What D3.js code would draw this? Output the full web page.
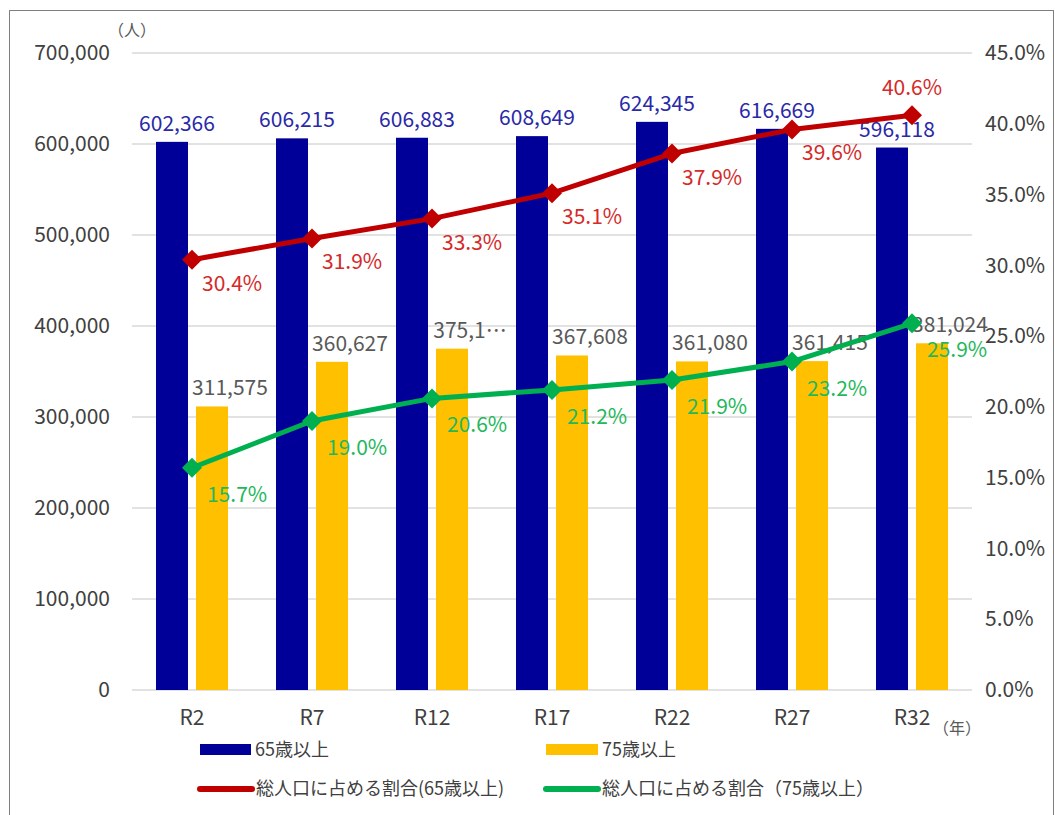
<!DOCTYPE html>
<html>
<head>
<meta charset="utf-8">
<script src="https://cdn.jsdelivr.net/npm/d3@7"></script>
<style>
  body { margin: 0; background: #fff; }
  text { font-family: "Noto Sans CJK JP", "Noto Sans", sans-serif; }
</style>
</head>
<body>
<script>
// data
var categories = ["R2", "R7", "R12", "R17", "R22", "R27", "R32"];
var over65 = [602366, 606215, 606883, 608649, 624345, 616669, 596118];
var over75 = [311575, 360627, 375100, 367608, 361080, 361415, 381024];
var over75Labels = ["311,575", "360,627", "375,1…", "367,608", "361,080", "361,415", "381,024"];
var share65 = [30.4, 31.9, 33.3, 35.1, 37.9, 39.6, 40.6];
var share75 = [15.7, 19.0, 20.6, 21.2, 21.9, 23.2, 25.9];
var leftTicks = [0, 100000, 200000, 300000, 400000, 500000, 600000, 700000];
var rightTicks = [0, 5, 10, 15, 20, 25, 30, 35, 40, 45];

var W = 1055, H = 815;
var plotL = 132, plotR = 972, plotT = 53, plotB = 690;
var fs = 21;

var svg = d3.select("body").append("svg")
    .attr("width", W)
    .attr("height", H);

svg.append("rect")
    .attr("x", 9.5).attr("y", 10.5)
    .attr("width", W - 11).attr("height", H)
    .attr("fill", "none")
    .attr("stroke", "#7f7f7f");

var x = d3.scaleBand().domain(categories).range([plotL, plotR]);
var xs = d3.scaleBand().domain(["a", "b"])
    .range([24, 96]).paddingInner(0.2);
var y = d3.scaleLinear().domain([0, 700000]).range([plotB, plotT]);
var y2 = d3.scaleLinear().domain([0, 45]).range([plotB, plotT]);

// gridlines
svg.append("g").selectAll("line")
    .data(leftTicks)
    .enter().append("line")
    .attr("x1", plotL).attr("x2", plotR)
    .attr("y1", function (d) { return y(d); })
    .attr("y2", function (d) { return y(d); })
    .attr("stroke", "#d9d9d9")
    .attr("stroke-width", 1.5);

var fmt = d3.format(",");

function styleAxis(g) {
    g.select(".domain").remove();
    g.selectAll("text").attr("font-size", fs).attr("fill", "#404040")
        .style("font-family", "'Noto Sans CJK JP', sans-serif");
}

svg.append("g")
    .attr("transform", "translate(110,0)")
    .call(d3.axisLeft(y).tickValues(leftTicks).tickFormat(fmt).tickSize(0).tickPadding(0))
    .call(styleAxis);

svg.append("g")
    .attr("transform", "translate(985,0)")
    .call(d3.axisRight(y2).tickValues(rightTicks)
        .tickFormat(function (d) { return d.toFixed(1) + "%"; }).tickSize(0).tickPadding(0))
    .call(styleAxis);

svg.append("g")
    .attr("transform", "translate(0," + (plotB + 20) + ")")
    .call(d3.axisBottom(x).tickSize(0).tickPadding(0))
    .call(styleAxis);

svg.append("text").attr("x", 108).attr("y", 36)
    .attr("font-size", 16).attr("fill", "#595959").text("（人）");
svg.append("text").attr("x", 933).attr("y", 734)
    .attr("font-size", 16).attr("fill", "#595959").text("（年）");

// bars
svg.append("g").selectAll("rect")
    .data(over65)
    .enter().append("rect")
    .attr("x", function (d, i) { return x(categories[i]) + xs("a"); })
    .attr("y", function (d) { return y(d); })
    .attr("width", xs.bandwidth())
    .attr("height", function (d) { return plotB - y(d); })
    .attr("fill", "#000099");

svg.append("g").selectAll("rect")
    .data(over75)
    .enter().append("rect")
    .attr("x", function (d, i) { return x(categories[i]) + xs("b"); })
    .attr("y", function (d) { return y(d); })
    .attr("width", xs.bandwidth())
    .attr("height", function (d) { return plotB - y(d); })
    .attr("fill", "#FFC000");

// bar labels
svg.append("g").selectAll("text")
    .data(over65)
    .enter().append("text")
    .attr("x", function (d, i) { return x(categories[i]) + xs("a") + xs.bandwidth() / 2 + 5; })
    .attr("y", function (d) { return y(d) - 11; })
    .attr("text-anchor", "middle")
    .attr("font-size", fs)
    .attr("fill", "#2a2aa8")
    .text(function (d) { return fmt(d); });

svg.append("g").selectAll("text")
    .data(over75)
    .enter().append("text")
    .attr("x", function (d, i) { return x(categories[i]) + xs("b") + xs.bandwidth() / 2 + 18; })
    .attr("y", function (d) { return y(d) - 11; })
    .attr("text-anchor", "middle")
    .attr("font-size", fs)
    .attr("fill", "#595959")
    .text(function (d, i) { return over75Labels[i]; });

// lines
var cx = function (d, i) { return x(categories[i]) + x.bandwidth() / 2; };
var line = d3.line()
    .x(cx)
    .y(function (d) { return y2(d); });

function drawSeries(values, color, labelColor, last, dx, dy) {
    svg.append("path")
        .datum(values)
        .attr("d", line)
        .attr("fill", "none")
        .attr("stroke", color)
        .attr("stroke-width", 5)
        .attr("stroke-linejoin", "round");

    svg.append("g").selectAll("path")
        .data(values)
        .enter().append("path")
        .attr("d", d3.symbol(d3.symbolSquare).size(200))
        .attr("transform", function (d, i) {
            return "translate(" + cx(d, i) + "," + y2(d) + ") rotate(45)";
        })
        .attr("fill", color);

    svg.append("g").selectAll("text")
        .data(values)
        .enter().append("text")
        .attr("x", function (d, i) { return last && i === values.length - 1 ? cx(d, i) : cx(d, i) + dx; })
        .attr("y", function (d, i) { return last && i === values.length - 1 ? y2(d) - 20 : y2(d) + dy; })
        .attr("text-anchor", function (d, i) { return last && i === values.length - 1 ? "middle" : "start"; })
        .attr("font-size", fs)
        .attr("fill", labelColor)
        .text(function (d) { return d.toFixed(1) + "%"; });
}

drawSeries(share65, "#C00000", "#d42a2a", true, 10, 31);
drawSeries(share75, "#00B050", "#22b85a", false, 15, 34);

// legend
var lg = svg.append("g");
lg.append("rect").attr("x", 200).attr("y", 744).attr("width", 51).attr("height", 11).attr("fill", "#000099");
lg.append("text").attr("x", 255).attr("y", 756).attr("font-size", 18).attr("fill", "#404040").text("65歳以上");
lg.append("rect").attr("x", 546).attr("y", 744).attr("width", 52).attr("height", 11).attr("fill", "#FFC000");
lg.append("text").attr("x", 602).attr("y", 756).attr("font-size", 18).attr("fill", "#404040").text("75歳以上");

function legendLine(x0, color, label) {
    lg.append("line").attr("x1", x0).attr("x2", x0 + 52).attr("y1", 789).attr("y2", 789)
        .attr("stroke", color).attr("stroke-width", 6).attr("stroke-linecap", "round");
    lg.append("path").attr("d", d3.symbol(d3.symbolSquare).size(20))
        .attr("transform", "translate(" + (x0 + 26) + ",789) rotate(45)").attr("fill", color);
    lg.append("text").attr("x", x0 + 56).attr("y", 795).attr("font-size", 18).attr("fill", "#404040").text(label);
}
legendLine(200, "#C00000", "総人口に占める割合(65歳以上)");
legendLine(546, "#00B050", "総人口に占める割合（75歳以上）");
</script>
</body>
</html>
